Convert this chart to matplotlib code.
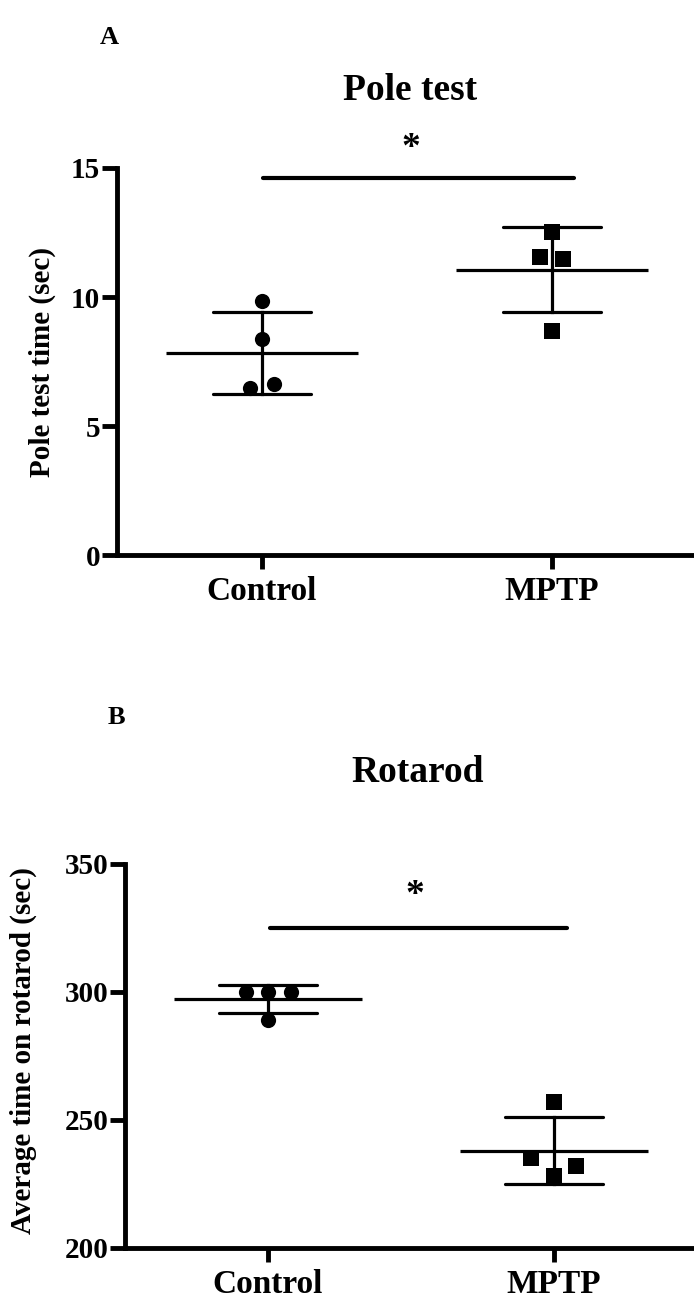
import numpy as np
import matplotlib
matplotlib.use("Agg")
import matplotlib.pyplot as plt

plt.rcParams['font.family'] = ['Liberation Serif', 'DejaVu Serif']
plt.rcParams['font.weight'] = 'bold'

groups = ["Control", "MPTP"]

# pole test times (sec), one value per animal
pole_control = [9.83, 8.38, 6.46, 6.62]
pole_mptp = [12.53, 11.56, 11.47, 8.68]
pole_ticks = [0, 5, 10, 15]
pole_sig = 14.6
pole_star = 15.75

# rotarod times (sec)
rota_control = [300, 300, 300, 289]
rota_mptp = [257, 235, 232, 228]
rota_ticks = [200, 250, 300, 350]
rota_sig = 325
rota_star = 337.5

# horizontal scatter so overlapping points stay visible
pole_jitter = [[0, 0, -0.041, 0.041], [0, -0.04, 0.038, 0]]
rota_jitter = [[-0.077, 0, 0.079, 0], [0, -0.079, 0.079, 0]]

W, H = 694, 1298
fig = plt.figure(figsize=(W / 100, H / 100), dpi=100)


def panel(rect, values, jitter, ticks, sig, sig_x, star, ylabel, label_xy):
    ax = fig.add_axes(rect)
    markers = ['o', 's']
    for i, vals in enumerate(values):
        vals = np.array(vals, dtype=float)
        m = vals.mean()
        sd = vals.std(ddof=1)
        ax.scatter(i + np.array(jitter[i]), vals, marker=markers[i], s=120,
                   color='black', zorder=3, linewidths=0)
        ax.plot([i - 0.33, i + 0.33], [m, m], color='black', lw=2.3,
                solid_capstyle='butt', zorder=2)
        ax.plot([i, i], [m - sd, m + sd], color='black', lw=2.3, zorder=2)
        for y in (m - sd, m + sd):
            ax.plot([i - 0.17, i + 0.17], [y, y], color='black', lw=2.3,
                    solid_capstyle='round', zorder=2)
    ax.plot(sig_x, [sig, sig], color='black', lw=3, solid_capstyle='round',
            clip_on=False)
    ax.text(0.514, star, '*', ha='center', va='center', fontsize=27,
            fontweight='bold', clip_on=False)
    ax.set_xlim(-0.5, 1.49)
    ax.set_ylim(ticks[0], ticks[-1])
    ax.set_xticks([0, 1])
    ax.set_xticklabels(groups)
    ax.set_yticks(ticks)
    for s in ('top', 'right'):
        ax.spines[s].set_visible(False)
    for s in ('left', 'bottom'):
        ax.spines[s].set_linewidth(3.5)
        ax.spines[s].set_capstyle('projecting')
    ax.tick_params(axis='y', length=11, width=3.5, pad=1, labelsize=21)
    ax.tick_params(axis='x', length=10, width=3.5, pad=5, labelsize=24)
    ax.set_ylabel(ylabel, fontsize=21, fontweight='bold')
    ax.yaxis.set_label_coords(*label_xy)
    return ax


panel([117 / W, 1 - 555 / H, (W - 117) / W, 387 / H],
      [pole_control, pole_mptp], pole_jitter, pole_ticks, pole_sig,
      [0.003, 1.076], pole_star, "Pole test time (sec)", (-0.106, 0.499))

panel([125 / W, 1 - 1248 / H, (W - 125) / W, 384 / H],
      [rota_control, rota_mptp], rota_jitter, rota_ticks, rota_sig,
      [0.007, 1.045], rota_star, "Average time on rotarod (sec)",
      (-0.155, 0.513))

fig.text(410 / W, 1 - 90 / H, "Pole test", ha='center', va='center',
         fontsize=27, fontweight='bold')
fig.text(418 / W, 1 - 773 / H, "Rotarod", ha='center', va='center',
         fontsize=27, fontweight='bold')
fig.text(109 / W, 1 - 37 / H, "A", ha='center', va='center',
         fontsize=19, fontweight='bold')
fig.text(116 / W, 1 - 718 / H, "B", ha='center', va='center',
         fontsize=19, fontweight='bold')

fig.savefig("out.png", dpi=100, facecolor='white')
